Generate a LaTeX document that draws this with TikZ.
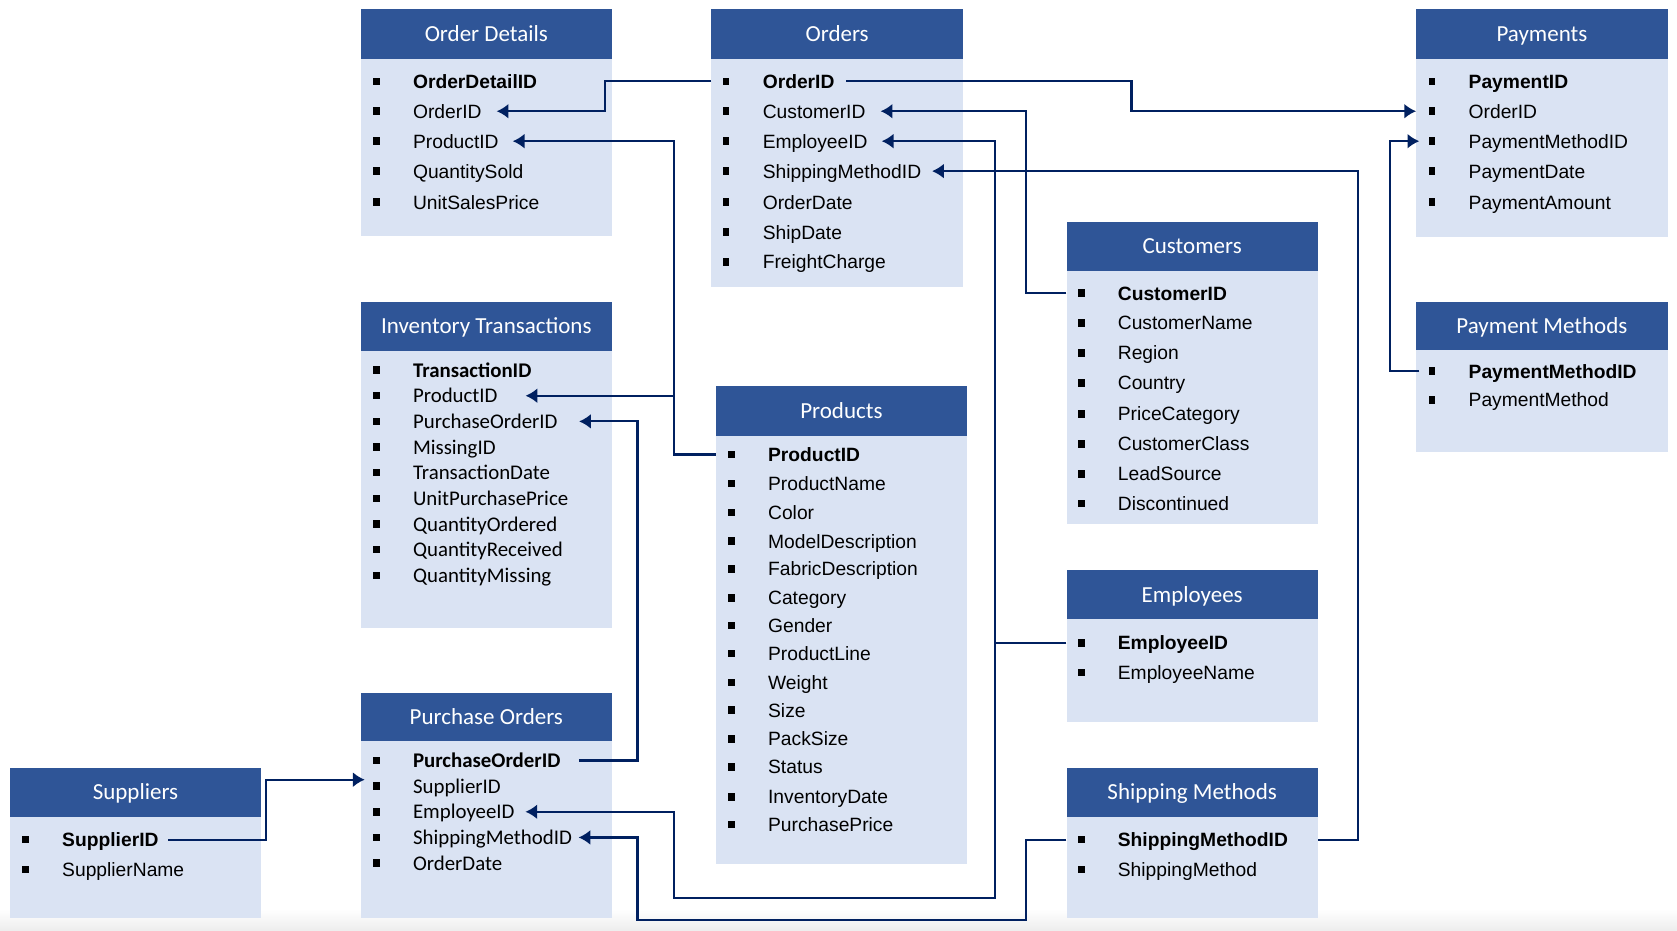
\documentclass[tikz,border=0pt]{standalone}
\usepackage{fontspec}
\setmainfont{Liberation Sans}
\newfontfamily\calfont{Carlito}
\usetikzlibrary{arrows.meta,calc}
\definecolor{hdrblue}{RGB}{47,85,151}
\definecolor{bodyblue}{RGB}{218,227,243}
\definecolor{navy}{RGB}{0,32,96}
\tikzset{
  hdr/.style={fill=hdrblue, text=white, font=\calfont\fontsize{21.5}{24}\selectfont, anchor=north west, inner sep=0pt, minimum width=235pt, text height=13.5pt, text depth=0pt},
  bodyb/.style={fill=bodyblue, anchor=north west, inner sep=0pt, minimum width=235pt},
  item/.style={anchor=west, inner sep=0pt, font=\fontsize{18}{20}\selectfont, text height=13pt, text depth=0pt},
  citem/.style={item, font=\calfont\fontsize{19.5}{22}\selectfont},
  bul/.style={fill=black, minimum width=6pt, minimum height=7pt, inner sep=0pt},
  conn/.style={draw=navy, line width=2pt},
  arr/.style={conn, -{Latex[length=11pt,width=14pt]}}
}
\newcommand\tbl[6]{%
  \node[bodyb, minimum height={#5-#4}] (#1b) at (#2,#4) {};
  \node[hdr, minimum height={#4-#3}] (#1) at (#2,#3) {#6};
}
\newcommand\itm[5][item]{%
  \node[bul] (#2p) at (#3-34,#4) {};
  \node[#1] (#2) at (#3,#4) {#5};
}
\begin{document}
\begin{tikzpicture}[x=1pt,y=-1pt]
\fill[white] (0,0) rectangle (1568,870);
\useasboundingbox (0,0) rectangle (1568,870);
\shade[top color=white, bottom color=black!7] (0,850) rectangle (1568,870);

% tables
\tbl{od}{337}{8}{55}{220}{Order Details}
\tbl{or}{665}{8}{55}{268}{Orders}
\tbl{pay}{1324}{8}{55}{221}{Payments}
\tbl{cu}{997}{207}{253}{490}{Customers}
\tbl{pm}{1324}{282}{327}{422}{Payment Methods}
\tbl{it}{337}{282}{328}{587}{Inventory Transactions}
\tbl{pr}{669}{361}{407}{808}{Products}
\tbl{em}{997}{533}{579}{675}{Employees}
\tbl{po}{337}{648}{693}{858}{Purchase Orders}
\tbl{su}{9}{718}{764}{858}{Suppliers}
\tbl{sm}{997}{718}{764}{858}{Shipping Methods}

% Order Details
\itm{od1}{386}{76}{\textbf{OrderDetailID}}
\itm{od2}{386}{104}{OrderID}
\itm{od3}{386}{132}{ProductID}
\itm{od4}{386}{160}{QuantitySold}
\itm{od5}{386}{189}{UnitSalesPrice}
% Orders
\itm{or1}{713}{76}{\textbf{OrderID}}
\itm{or2}{713}{104}{CustomerID}
\itm{or3}{713}{132}{EmployeeID}
\itm{or4}{713}{160}{ShippingMethodID}
\itm{or5}{713}{189}{OrderDate}
\itm{or6}{713}{217}{ShipDate}
\itm{or7}{713}{245}{FreightCharge}
% Payments
\itm{pay1}{1373}{76}{\textbf{PaymentID}}
\itm{pay2}{1373}{104}{OrderID}
\itm{pay3}{1373}{132}{PaymentMethodID}
\itm{pay4}{1373}{160}{PaymentDate}
\itm{pay5}{1373}{189}{PaymentAmount}
% Customers
\itm{cu1}{1045}{274}{\textbf{CustomerID}}
\itm{cu2}{1045}{302}{CustomerName}
\itm{cu3}{1045}{330}{Region}
\itm{cu4}{1045}{358}{Country}
\itm{cu5}{1045}{387}{PriceCategory}
\itm{cu6}{1045}{415}{CustomerClass}
\itm{cu7}{1045}{443}{LeadSource}
\itm{cu8}{1045}{471}{Discontinued}
% Payment Methods
\itm{pm1}{1373}{347}{\textbf{PaymentMethodID}}
\itm{pm2}{1373}{374}{PaymentMethod}
% Inventory Transactions
\itm[citem]{it1}{386}{346}{\textbf{TransactionID}}
\itm[citem]{it2}{386}{370}{ProductID}
\itm[citem]{it3}{386}{394}{PurchaseOrderID}
\itm[citem]{it4}{386}{418}{MissingID}
\itm[citem]{it5}{386}{442}{TransactionDate}
\itm[citem]{it6}{386}{466}{UnitPurchasePrice}
\itm[citem]{it7}{386}{490}{QuantityOrdered}
\itm[citem]{it8}{386}{514}{QuantityReceived}
\itm[citem]{it9}{386}{538}{QuantityMissing}
% Products
\itm{pr1}{718}{425}{\textbf{ProductID}}
\itm{pr2}{718}{452}{ProductName}
\itm{pr3}{718}{479}{Color}
\itm{pr4}{718}{506}{ModelDescription}
\itm{pr5}{718}{532}{FabricDescription}
\itm{pr6}{718}{559}{Category}
\itm{pr7}{718}{585}{Gender}
\itm{pr8}{718}{611}{ProductLine}
\itm{pr9}{718}{638}{Weight}
\itm{pr10}{718}{664}{Size}
\itm{pr11}{718}{691}{PackSize}
\itm{pr12}{718}{717}{Status}
\itm{pr13}{718}{745}{InventoryDate}
\itm{pr14}{718}{771}{PurchasePrice}
% Employees
\itm{em1}{1045}{601}{\textbf{EmployeeID}}
\itm{em2}{1045}{629}{EmployeeName}
% Purchase Orders
\itm[citem]{po1}{386}{711}{\textbf{PurchaseOrderID}}
\itm[citem]{po2}{386}{735}{SupplierID}
\itm[citem]{po3}{386}{759}{EmployeeID}
\itm[citem]{po4}{386}{783}{ShippingMethodID}
\itm[citem]{po5}{386}{807}{OrderDate}
% Suppliers
\itm{su1}{58}{785}{\textbf{SupplierID}}
\itm{su2}{58}{813}{SupplierName}
% Shipping Methods
\itm{sm1}{1045}{785}{\textbf{ShippingMethodID}}
\itm{sm2}{1045}{813}{ShippingMethod}

% bend coordinates
\coordinate (x566) at (566,0);
\coordinate (x1058) at (1058,0);
\coordinate (x959) at (959,0);
\coordinate (x930) at (930,0);
\coordinate (x630) at (630,0);
\coordinate (x1270) at (1270,0);
\coordinate (x596) at (596,0);
\coordinate (x249) at (249,0);
\coordinate (x1300) at (1300,0);
\coordinate (x341) at (341,0);
\coordinate (x1327) at (1327,0);
\coordinate (y840) at (0,840);
\coordinate (y860) at (0,860);
\coordinate (y729) at (0,729);

% connectors
\draw[arr] (orb.west |- or1) -- (x566 |- or1) |- ([xshift=14pt]od2.east);
\draw[arr] ([xshift=11pt]or1.east) -| (x1058 |- pay2) -- (payb.west |- pay2);
\draw[arr] (cub.west |- cu1) -| (x959 |- or2) -- ([xshift=14pt]or2.east);
\draw[arr] (emb.west |- em1) -| (x930 |- or3) -- ([xshift=13pt]or3.east);
\draw[arr] (x930 |- em1) -- (x930 |- y840) -| (x630 |- po3) -- ([xshift=10pt]po3.east);
\draw[arr] (smb.east |- sm1) -| (x1270 |- or4) -- ([xshift=10pt]or4.east);
\draw[arr] (smb.west |- sm1) -| (x959 |- y860) -| (x596 |- po4) -- ([xshift=6pt]po4.east);
\draw[arr] (prb.west |- pr1) -| (x630 |- od3) -- ([xshift=13pt]od3.east);
\draw[arr] (x630 |- it2) -- ([xshift=26pt]it2.east);
\draw[arr] ([xshift=17pt]po1.east) -| (x596 |- it3) -- ([xshift=20pt]it3.east);
\draw[arr] ([xshift=9pt]su1.east) -| (x249 |- y729) -- (x341 |- y729);
\draw[arr] (x1327 |- pm1) -| (x1300 |- pay3) -- (x1327 |- pay3);
\end{tikzpicture}
\end{document}
